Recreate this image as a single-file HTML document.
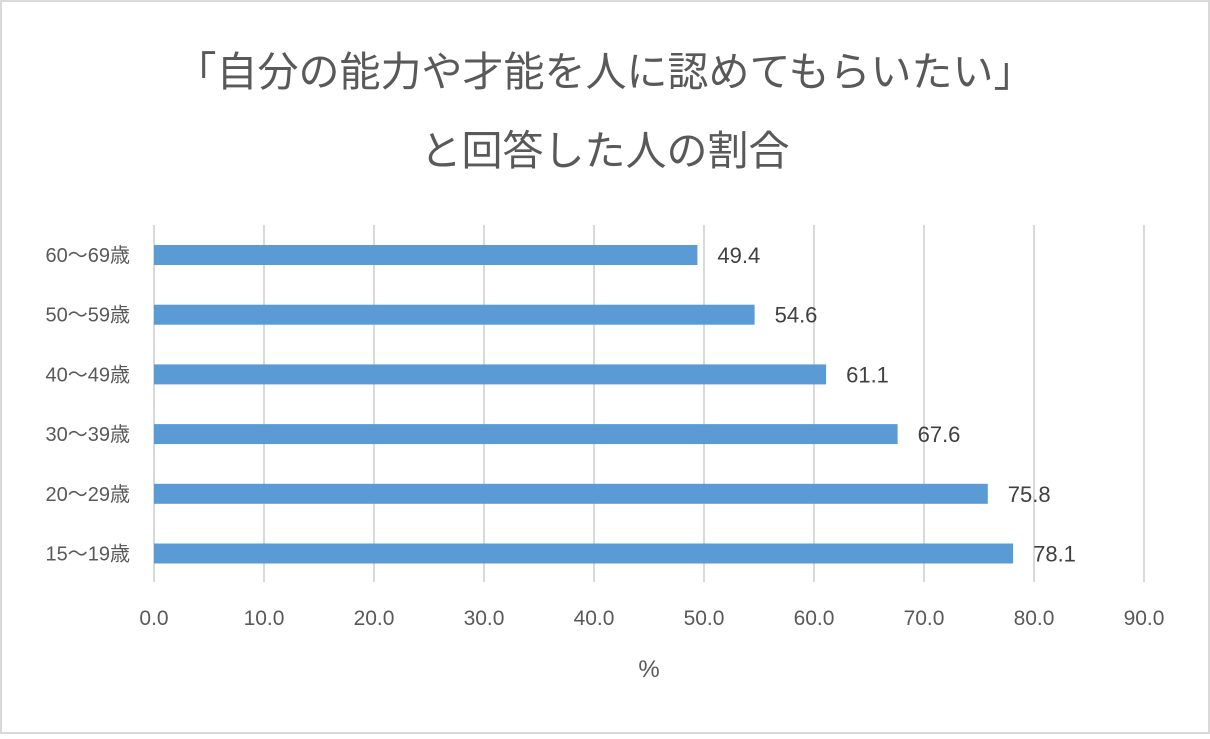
<!DOCTYPE html>
<html><head><meta charset="utf-8"><style>
html,body{margin:0;padding:0;background:#fff}
body{width:1210px;height:734px;overflow:hidden;font-family:"Liberation Sans","Noto Sans CJK JP",sans-serif}
</style></head><body>
<svg width="1210" height="734" xmlns="http://www.w3.org/2000/svg">
<rect x="1" y="1" width="1208" height="732" fill="#fff" stroke="#d9d9d9" stroke-width="2"/>
<text x="605" y="86" text-anchor="middle" font-size="41" fill="#595959" font-family="Liberation Sans,Noto Sans CJK JP,sans-serif">「自分の能力や才能を人に認めてもらいたい」</text>
<text x="605" y="165" text-anchor="middle" font-size="41" fill="#595959" font-family="Liberation Sans,Noto Sans CJK JP,sans-serif">と回答した人の割合</text>
<g id="grid"></g><g id="bars"></g><g id="labels"></g>
<text x="649" y="677" text-anchor="middle" font-size="24" fill="#595959">%</text>
</svg>
<script>
const categories=["60～69歳","50～59歳","40～49歳","30～39歳","20～29歳","15～19歳"];
const values=[49.4,54.6,61.1,67.6,75.8,78.1];
const ticks=[0,10,20,30,40,50,60,70,80,90];
const NS="http://www.w3.org/2000/svg";
const x0=154,x1=1144,xmax=90,yTop=225,yBot=582,rowStep=59.7,row0=255;
const X=v=>x0+(x1-x0)*v/xmax;
const Y=i=>row0+i*rowStep;
function mk(t,a,p){const e=document.createElementNS(NS,t);for(const k in a)e.setAttribute(k,a[k]);p.appendChild(e);return e;}
const g=document.getElementById('grid'),b=document.getElementById('bars'),l=document.getElementById('labels');
ticks.forEach(t=>{
 const ln=mk('line',{x1:X(t),x2:X(t),y1:yTop,y2:yBot,stroke:'#d9d9d9','stroke-width':2},g);
 
 
 const tx=mk('text',{x:X(t),y:625,'text-anchor':'middle','font-size':21,fill:'#595959'},l);
 tx.textContent=t.toFixed(1);
 
 
});
categories.forEach((c,i)=>{
 const r=mk('rect',{x:X(0),y:Y(i)-10,width:X(values[i])-X(0),height:20,fill:'#5b9bd5'},b);
 
 
 const ct=mk('text',{x:130,y:Y(i)+7,'text-anchor':'end','font-size':20,fill:'#595959'},l);
 ct.textContent=c;
 
 
 const vt=mk('text',{x:X(values[i])+20,y:Y(i)+8,'font-size':22,fill:'#404040'},l);
 vt.textContent=values[i].toFixed(1);
 
 
});
</script>
</body></html>
